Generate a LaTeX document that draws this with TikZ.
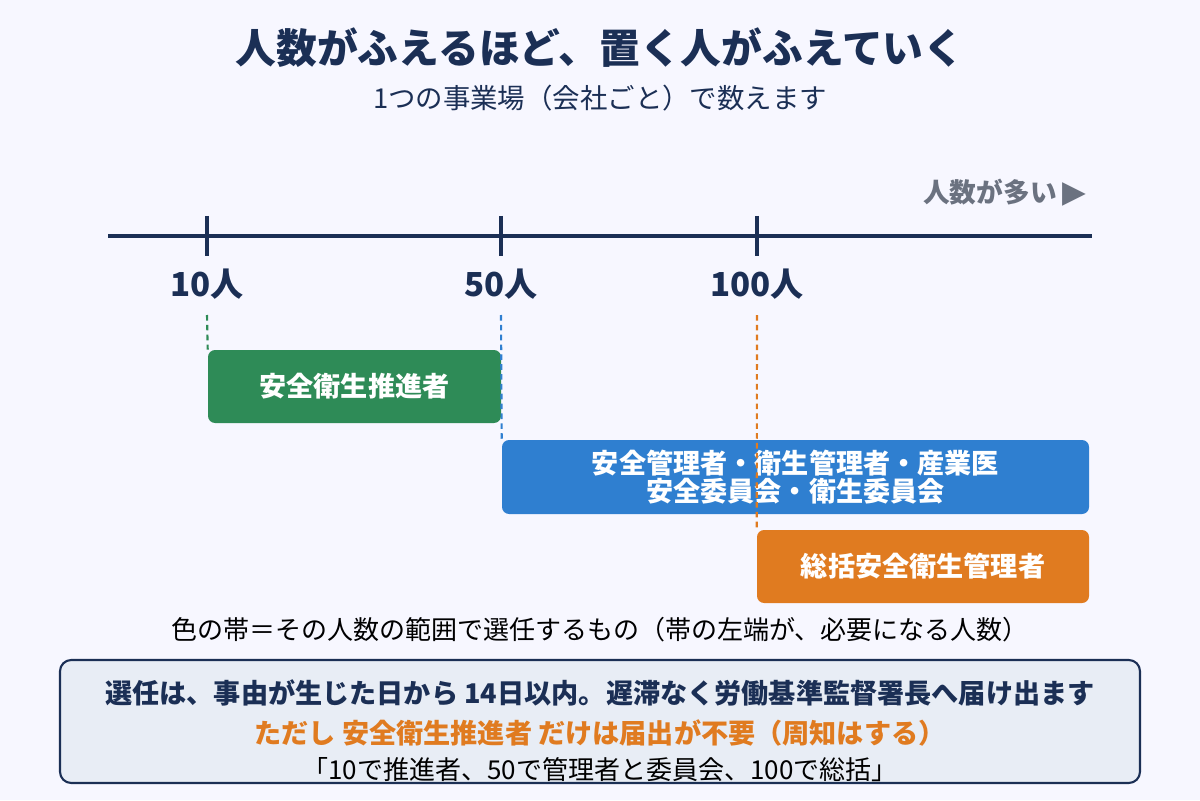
\documentclass[tikz,border=0pt]{standalone}
\usepackage{fontspec}
\setmainfont{Noto Sans CJK JP}
\newfontfamily\sym{DejaVu Sans}
\usetikzlibrary{positioning}
\definecolor{navy}{HTML}{1B2F55}
\definecolor{grn}{HTML}{2E8B57}
\definecolor{blu}{HTML}{2F7FD0}
\definecolor{org}{HTML}{E07B20}
\definecolor{gry}{HTML}{6B7280}
\definecolor{pale}{HTML}{E8EDF5}
\begin{document}
\begin{tikzpicture}[x=0.025cm,y=-0.025cm,
  band/.style={rounded corners=5pt,text=white,font=\bfseries\fontsize{19.3}{23}\selectfont,align=center},
  tick/.style={navy,line width=3.5pt},
  num/.style={navy,font=\bfseries\fontsize{23.5}{28}\selectfont},
  guide/.style={line width=1.5pt,dash pattern=on 4pt off 3pt}]
  \useasboundingbox[fill=white!97!blue] (0,0) rectangle (1200,800);
  % heading
  \node[navy,font=\bfseries\fontsize{29}{34}\selectfont] (title) at (600,48) {人数がふえるほど、置く人がふえていく};
  \node[navy,font=\fontsize{19.5}{23}\selectfont] (sub) at (600,98) {1つの事業場（会社ごと）で数えます};
  \node[gry,font=\bfseries\fontsize{19}{22}\selectfont] (more) at (1005,193) {人数が多い \sym\fontsize{22}{22}\selectfont ▶};
  % axis
  \coordinate (a0) at (108,236);
  \coordinate (a1) at (1092,236);
  \draw[navy,line width=3.5pt] (a0) -- (a1);
  \foreach \x/\n in {207/10,501/50,757/100}{
    \coordinate (t\n) at (\x,236);
    \draw[tick] (\x,216) -- (\x,256);
    \node[num] (l\n) at (\x,284) {\n 人};
  }
  % bands
  \node[band,fill=grn,minimum width=293*0.025cm,minimum height=73*0.025cm] (b10) at (354.5,386.5) {安全衛生推進者};
  \node[band,fill=blu,minimum width=587*0.025cm,minimum height=74*0.025cm,inner sep=1pt] (b50) at (795.5,477) {安全管理者・衛生管理者・産業医\\[-3pt]安全委員会・衛生委員会};
  \node[band,fill=org,minimum width=332*0.025cm,minimum height=73*0.025cm] (b100) at (923,566.5) {総括安全衛生管理者};
  \draw[guide,grn] (207,315) -- (b10.north west);
  \draw[guide,blu] (501,315) -- (b50.north west);
  \draw[guide,org] (757,315) -- (b100.north west);
  % notes
  \node[font=\fontsize{18.5}{22}\selectfont] (cap) at (600,630) {色の帯＝その人数の範囲で選任するもの（帯の左端が、必要になる人数）};
  \node[draw=navy,line width=1.5pt,fill=pale,rounded corners=8pt,minimum width=1080*0.025cm,minimum height=123*0.025cm] (box) at (600,721.5) {};
  \node[navy,font=\bfseries\fontsize{19.3}{23}\selectfont] (n1) at (600,693) {選任は、事由が生じた日から 14日以内。遅滞なく労働基準監督署長へ届け出ます};
  \node[org,font=\bfseries\fontsize{19.3}{23}\selectfont] (n2) at (600,733) {ただし 安全衛生推進者 だけは届出が不要（周知はする）};
  \node[font=\fontsize{18.5}{22}\selectfont] (n3) at (600,770) {「10で推進者、50で管理者と委員会、100で総括」};
\end{tikzpicture}
\end{document}
